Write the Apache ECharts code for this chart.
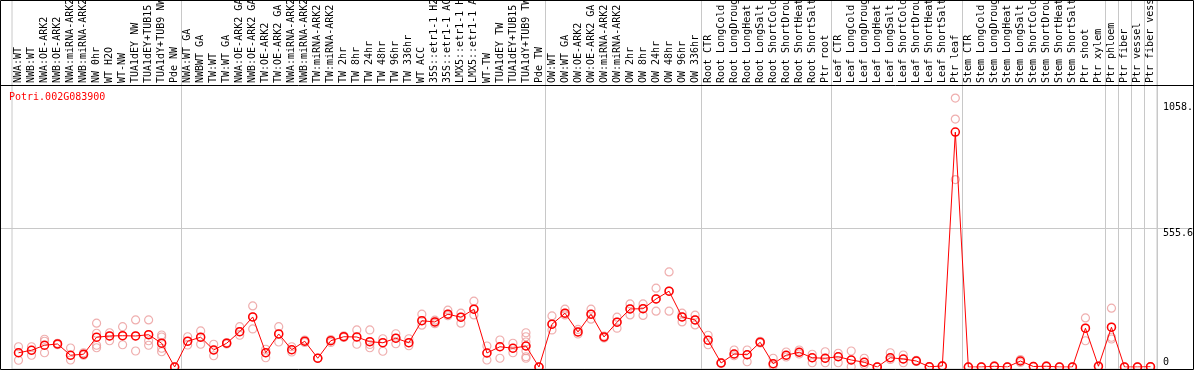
<!DOCTYPE html>
<html>
<head>
<meta charset="utf-8">
<script src="https://cdn.jsdelivr.net/npm/echarts@6/dist/echarts.min.js"></script>
<style>
html, body { margin: 0; padding: 0; background: #fff; }
#chart { width: 1194px; height: 370px; }
</style>
</head>
<body>
<div id="chart"></div>
<script>
var geneName = 'Potri.002G083900';

var categories = [
	'NWA:WT', 'NWB:WT', 'NWA:OE-ARK2', 'NWB:OE-ARK2', 'NWA:miRNA-ARK2', 'NWB:miRNA-ARK2',
	'NW 0hr', 'WT H2O', 'WT-NW', 'TUA1dEY NW', 'TUA1dEY+TUB15 NW', 'TUA1dY+TUB9 NW', 'Pde NW',
	'NWA:WT GA', 'NWBWT GA', 'TW:WT', 'TW:WT GA', 'NWA:OE-ARK2 GA', 'NWB:OE-ARK2 GA',
	'TW:OE-ARK2', 'TW:OE-ARK2 GA', 'NWA:miRNA-ARK2 GA', 'NWB:miRNA-ARK2 GA', 'TW:miRNA-ARK2',
	'TW:miRNA-ARK2 GA', 'TW 2hr', 'TW 8hr', 'TW 24hr', 'TW 48hr', 'TW 96hr', 'TW 336hr',
	'WT ACC', '35S::etr1-1 H2O', '35S::etr1-1 ACC', 'LMX5::etr1-1 H2O', 'LMX5::etr1-1 ACC',
	'WT-TW', 'TUA1dEY TW', 'TUA1dEY+TUB15 TW', 'TUA1dY+TUB9 TW', 'Pde TW',
	'OW:WT', 'OW:WT GA', 'OW:OE-ARK2', 'OW:OE-ARK2 GA', 'OW:miRNA-ARK2', 'OW:miRNA-ARK2 GA',
	'OW 2hr', 'OW 8hr', 'OW 24hr', 'OW 48hr', 'OW 96hr', 'OW 336hr',
	'Root CTR', 'Root LongCold', 'Root LongDrought', 'Root LongHeat', 'Root LongSalt',
	'Root ShortCold', 'Root ShortDrought', 'Root ShortHeat', 'Root ShortSalt', 'Ptr root',
	'Leaf CTR', 'Leaf LongCold', 'Leaf LongDrought', 'Leaf LongHeat', 'Leaf LongSalt',
	'Leaf ShortCold', 'Leaf ShortDrought', 'Leaf ShortHeat', 'Leaf ShortSalt', 'Ptr leaf',
	'Stem CTR', 'Stem LongCold', 'Stem LongDrought', 'Stem LongHeat', 'Stem LongSalt',
	'Stem ShortCold', 'Stem ShortDrought', 'Stem ShortHeat', 'Stem ShortSalt', 'Ptr shoot',
	'Ptr xylem', 'Ptr phloem', 'Ptr fiber', 'Ptr vessel', 'Ptr fiber vessel'
];

// mean expression per sample
var means = [
	57, 67, 87, 92, 47, 51, 119, 124, 125, 124, 129, 95, 0,
	103, 119, 68, 95, 141, 200, 57, 132, 69, 103, 35, 105, 121, 120, 101, 97, 115, 97,
	185, 180, 211, 199, 231, 56, 81, 75, 84, 0,
	171, 215, 140, 211, 120, 179, 232, 233, 272, 303, 200, 188,
	107, 16, 52, 49, 99, 13, 47, 59, 37, 35,
	41, 28, 19, 0, 37, 32, 24, 1, 4, 939,
	0, 0, 3, 0, 24, 2, 3, 0, 0, 155,
	3, 159, 0, 0, 1
];

// individual replicates per sample
var replicates = [
	[81, 57, 27], [81, 67, 47], [111, 103, 57], [95, 92, 89], [76, 47, 28], [57, 51, 47],
	[175, 135, 87, 77], [137, 124, 105], [161, 125, 89], [188, 124, 64], [188, 129, 105, 87],
	[128, 120, 95, 75, 61], [0, 0, 0],
	[121, 103, 88], [144, 119, 91], [91, 68, 45], [98, 95, 92], [161, 141, 127], [244, 200, 152],
	[71, 57, 37], [161, 132, 100], [81, 69, 60], [108, 103, 98], [35, 35, 35], [110, 105, 98],
	[125, 121, 118], [148, 120, 91], [148, 101, 90, 77], [113, 97, 63], [133, 115, 93], [113, 97, 85],
	[211, 185, 167], [187, 180, 173], [227, 211, 205], [215, 199, 175], [263, 231, 208],
	[84, 56, 28], [108, 81, 35], [95, 75, 57], [137, 121, 100, 84, 65, 41, 35], [0, 0, 0],
	[204, 171, 148], [231, 215, 208], [150, 140, 132], [231, 211, 191], [124, 120, 116],
	[199, 179, 155], [252, 232, 208], [252, 233, 206], [315, 272, 223], [380, 303, 223],
	[215, 200, 180], [207, 188, 168],
	[127, 107, 89], [18, 16, 14], [68, 52, 45], [68, 49, 21], [103, 99, 96], [35, 13, 5],
	[60, 47, 40], [68, 59, 52], [51, 37, 17], [61, 35, 17],
	[55, 41, 17], [64, 28, 1], [35, 19, 10], [0, 0, 0], [57, 37, 30], [48, 32, 17],
	[27, 24, 22], [2, 1, 0], [6, 4, 2], [1075, 991, 749],
	[0, 0, 0], [0, 0, 0], [5, 3, 1], [0, 0, 0], [30, 24, 18], [3, 2, 1], [5, 3, 1],
	[0, 0, 0], [0, 0, 0], [196, 155, 105],
	[5, 3, 1], [235, 159, 119, 112], [0, 0, 0], [0, 0, 0], [2, 1, 0]
];

// category index where a new sample group starts
var separators = [13, 41, 53, 63, 73, 84, 85, 86, 87];

var yTickValues = [0, 555.6, 1058];
var yTickLabels = ['0', '555.6', '1058.'];

var font = '"DejaVu Sans Mono", monospace';
var gridColor = '#c8c8c8';

var repData = [];
replicates.forEach(function (vals, i) {
	vals.forEach(function (v) {
		repData.push([i, v]);
	});
});

var myChart = echarts.init(document.getElementById('chart'));
var option = {
	animation: false,
	backgroundColor: '#fff',
	title: {
		text: geneName,
		left: 4,
		top: 87,
		textStyle: { color: '#ff0000', fontSize: 10, fontFamily: font, fontWeight: 'normal' }
	},
	grid: [
		{ left: 12, right: 37, top: 0, bottom: 1, show: true, borderColor: gridColor, borderWidth: 1, outerBoundsMode: 'none', containLabel: false },
		{ left: 12, right: 37, top: 89, bottom: 3, outerBoundsMode: 'none', containLabel: false },
		{ left: 1, right: 1, top: 89, bottom: 3, outerBoundsMode: 'none', containLabel: false }
	],
	xAxis: [{
		gridIndex: 0,
		type: 'category',
		data: categories,
		position: 'top',
		offset: -85,
		axisLine: { show: false },
		axisTick: { show: false },
		axisLabel: { interval: 0, rotate: 90, margin: 2, fontSize: 10, fontFamily: font, color: '#000' },
		splitLine: {
			show: true,
			interval: function (i) { return separators.indexOf(i) >= 0; },
			lineStyle: { color: gridColor, width: 1 }
		}
	}, {
		gridIndex: 1,
		type: 'category',
		data: categories,
		show: false
	}, {
		gridIndex: 2,
		type: 'value',
		min: 0,
		max: 1,
		show: false
	}],
	yAxis: [{
		gridIndex: 0,
		type: 'value',
		min: 0,
		max: 1,
		show: false
	}, {
		gridIndex: 1,
		type: 'value',
		position: 'right',
		min: 0,
		max: 1111.2,
		axisLine: { show: false },
		axisTick: { show: false },
		splitLine: { show: false },
		axisLabel: {
			customValues: yTickValues,
			margin: 6,
			color: '#000',
			fontSize: 10,
			fontFamily: font,
			formatter: function (v) {
				var k = yTickValues.indexOf(v);
				var t = k >= 0 ? yTickLabels[k] : '';
				return v === 0 ? '{lo|' + t + '}' : '{hi|' + t + '}';
			},
			rich: {
				lo: { padding: [0, 0, 10, 0], fontSize: 10, fontFamily: font, color: '#000' },
				hi: { padding: [10, 0, 0, 0], fontSize: 10, fontFamily: font, color: '#000' }
			}
		}
	}, {
		gridIndex: 2,
		type: 'value',
		min: 0,
		max: 1111.2,
		interval: 555.6,
		axisLine: { show: false },
		axisTick: { show: false },
		axisLabel: { show: false },
		splitLine: { show: true, showMinLine: false, showMaxLine: false, lineStyle: { color: gridColor, width: 1 } }
	}],
	graphic: [{
		type: 'line',
		shape: { x1: 0, y1: 85.5, x2: 1194, y2: 85.5 },
		style: { stroke: '#000', lineWidth: 1 },
		z: 10
	}, {
		type: 'rect',
		shape: { x: 0.5, y: 0.5, width: 1193, height: 369 },
		style: { stroke: '#000', fill: null, lineWidth: 1 },
		z: 10
	}],
	series: [{
		type: 'scatter',
		xAxisIndex: 1,
		yAxisIndex: 1,
		data: repData,
		symbol: 'circle',
		symbolSize: 8,
		itemStyle: { color: 'rgba(255,255,255,0)', borderColor: '#eb9a9a', borderWidth: 1.2 },
		z: 2
	}, {
		type: 'line',
		xAxisIndex: 1,
		yAxisIndex: 1,
		data: means,
		symbol: 'circle',
		symbolSize: 8,
		showAllSymbol: true,
		itemStyle: { color: 'rgba(255,255,255,0)', borderColor: '#ff0000', borderWidth: 1.5 },
		lineStyle: { color: '#ff0000', width: 1 },
		z: 3
	}]
};
myChart.setOption(option);
</script>
</body>
</html>
